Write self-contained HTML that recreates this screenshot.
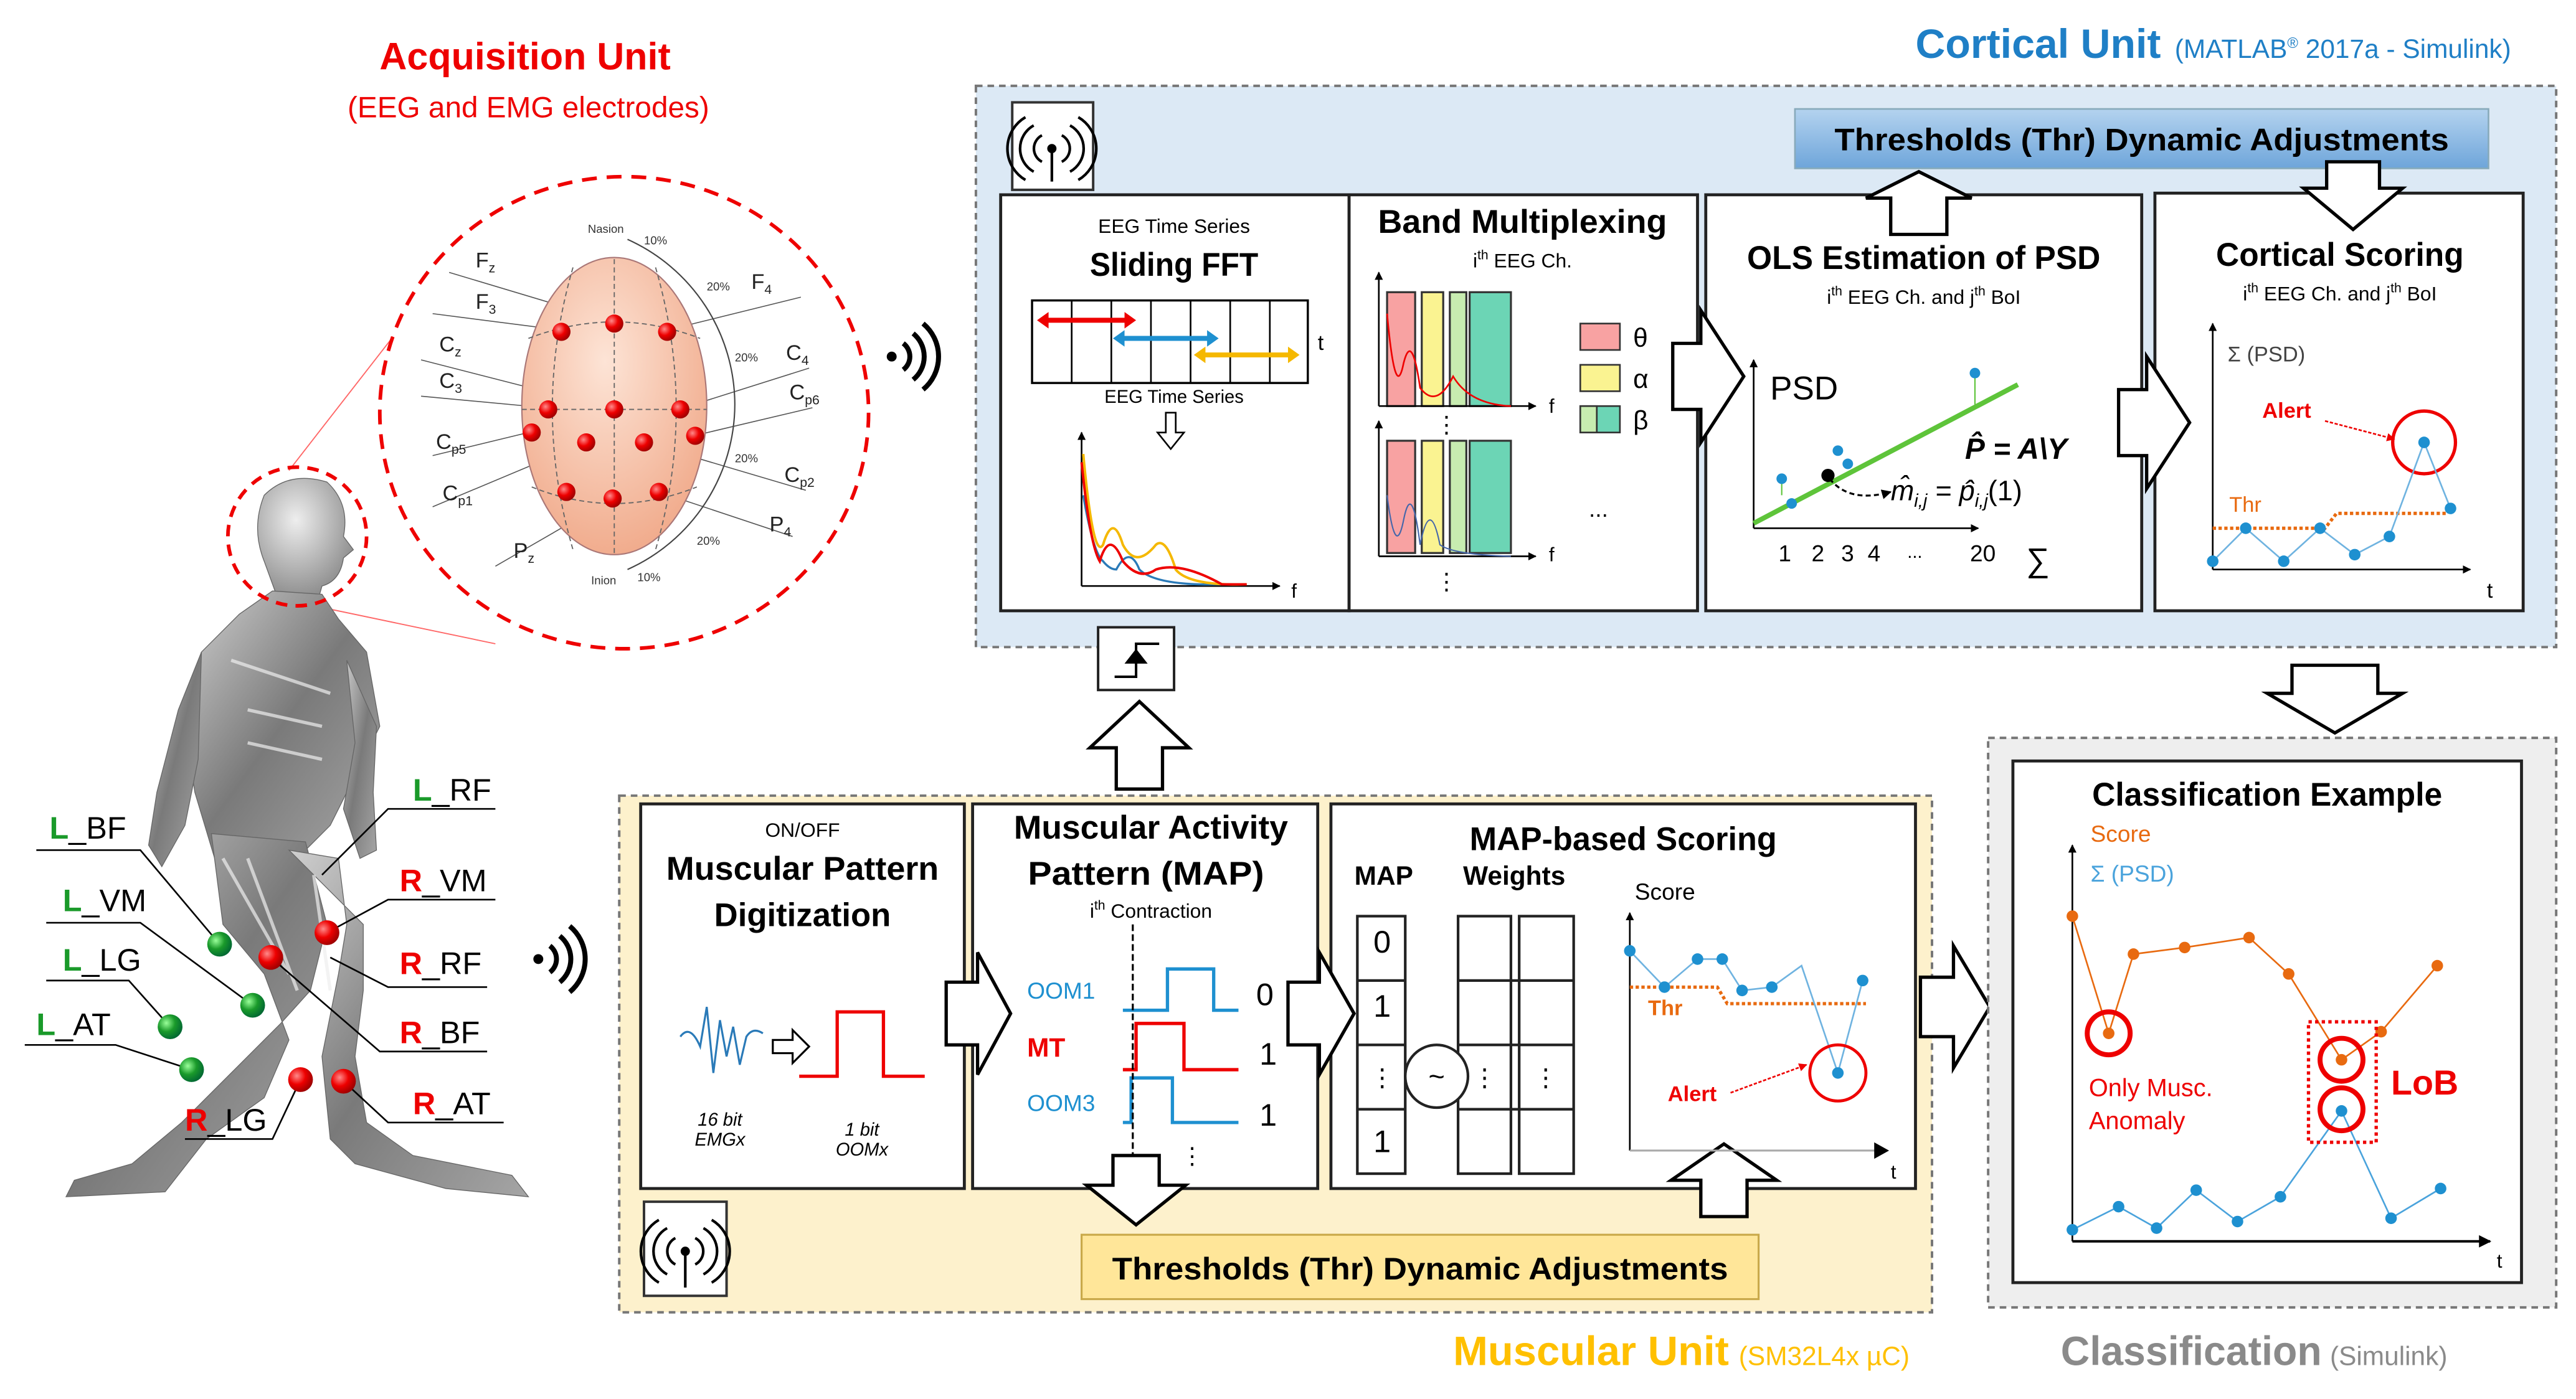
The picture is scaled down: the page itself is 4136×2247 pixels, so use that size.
<!DOCTYPE html>
<html><head><meta charset="utf-8"><style>
html,body{margin:0;padding:0;background:#fff}
svg{display:block}
text{font-family:"Liberation Sans Narrow","Liberation Sans",sans-serif}
.b{font-weight:bold}
.t{font-family:"Liberation Sans",sans-serif}
</style></head><body>
<svg width="4136" height="2247" viewBox="0 0 1560 847.5" xmlns="http://www.w3.org/2000/svg">
<defs>
<radialGradient id="rd" cx="0.35" cy="0.35" r="0.7"><stop offset="0" stop-color="#ff8a8a"/><stop offset="0.5" stop-color="#e00"/><stop offset="1" stop-color="#900"/></radialGradient>
<radialGradient id="gd" cx="0.35" cy="0.35" r="0.7"><stop offset="0" stop-color="#9f9"/><stop offset="0.5" stop-color="#1a9a2a"/><stop offset="1" stop-color="#063"/></radialGradient>
<linearGradient id="bl" x1="0" y1="0" x2="0" y2="1"><stop offset="0" stop-color="#b4d3ef"/><stop offset="1" stop-color="#6ea5da"/></linearGradient>
<radialGradient id="hd" cx="0.45" cy="0.35" r="0.7"><stop offset="0" stop-color="#fde4d6"/><stop offset="1" stop-color="#f0a888"/></radialGradient>
<linearGradient id="bd" x1="0" y1="0" x2="1" y2="1"><stop offset="0" stop-color="#d0d0d0"/><stop offset="0.5" stop-color="#7a7a7a"/><stop offset="1" stop-color="#a5a5a5"/></linearGradient>
<radialGradient id="hg" cx="0.4" cy="0.35" r="0.7"><stop offset="0" stop-color="#eee"/><stop offset="1" stop-color="#888"/></radialGradient>
<marker id="ah" viewBox="0 0 10 10" refX="9" refY="5" markerWidth="5" markerHeight="5" orient="auto"><path d="M0,0L10,5L0,10z" fill="#000"/></marker>
<marker id="ar" viewBox="0 0 10 10" refX="9" refY="5" markerWidth="5" markerHeight="5" orient="auto"><path d="M0,0L10,5L0,10z" fill="#e00"/></marker>
</defs>

<!-- ACQUISITION TITLE -->
<text x="318" y="42" text-anchor="middle" class="t b" font-size="23" fill="#e00">Acquisition Unit</text>
<text x="320" y="71" text-anchor="middle" class="t" font-size="18" fill="#e00">(EEG and EMG electrodes)</text>

<!-- Zoom lines -->
<line x1="175" y1="285" x2="245" y2="195" stroke="#f66" stroke-width="0.7"/>
<line x1="195" y1="368" x2="300" y2="390" stroke="#f66" stroke-width="0.7"/>
<ellipse cx="378" cy="250" rx="148" ry="143" fill="#fff" stroke="#e00" stroke-width="2.2" stroke-dasharray="9,6"/>

<!-- Head diagram -->
<g stroke="#555" stroke-width="0.6" fill="none">
<line x1="272" y1="165" x2="372" y2="195"/><line x1="262" y1="190" x2="340" y2="200"/>
<line x1="255" y1="218" x2="372" y2="248"/><line x1="255" y1="240" x2="330" y2="247"/>
<line x1="262" y1="276" x2="320" y2="262"/><line x1="262" y1="307" x2="355" y2="268"/>
<line x1="300" y1="343" x2="371" y2="302"/>
<line x1="485" y1="180" x2="404" y2="200"/><line x1="490" y1="223" x2="414" y2="247"/>
<line x1="492" y1="247" x2="420" y2="264"/><line x1="488" y1="297" x2="390" y2="268"/>
<line x1="480" y1="325" x2="399" y2="298"/>
</g>
<ellipse cx="372" cy="246" rx="56" ry="90" fill="url(#hd)" stroke="#a77" stroke-width="0.8"/>
<g stroke="#666" stroke-width="0.7" stroke-dasharray="3,2" fill="none">
<line x1="372" y1="157" x2="372" y2="336"/><line x1="316" y1="248" x2="428" y2="248"/>
<path d="M320,205 Q372,185 424,205"/><path d="M322,295 Q372,315 422,295"/>
<path d="M347,162 Q322,248 347,333"/><path d="M397,162 Q422,248 397,333"/>
</g>
<g fill="url(#rd)">
<circle cx="340" cy="201" r="5.5"/><circle cx="372" cy="196" r="5.5"/><circle cx="404" cy="201" r="5.5"/>
<circle cx="332" cy="248" r="5.5"/><circle cx="372" cy="248" r="5.5"/><circle cx="412" cy="248" r="5.5"/>
<circle cx="322" cy="262" r="5.5"/><circle cx="355" cy="268" r="5.5"/><circle cx="390" cy="268" r="5.5"/><circle cx="421" cy="264" r="5.5"/>
<circle cx="343" cy="298" r="5.5"/><circle cx="371" cy="302" r="5.5"/><circle cx="399" cy="298" r="5.5"/>
</g>
<g font-size="13" fill="#222" class="t">
<text x="288" y="162">F<tspan font-size="8" dy="3">z</tspan></text>
<text x="288" y="187">F<tspan font-size="8" dy="3">3</tspan></text>
<text x="266" y="213">C<tspan font-size="8" dy="3">z</tspan></text>
<text x="266" y="235">C<tspan font-size="8" dy="3">3</tspan></text>
<text x="264" y="272">C<tspan font-size="8" dy="3">p5</tspan></text>
<text x="268" y="303">C<tspan font-size="8" dy="3">p1</tspan></text>
<text x="311" y="338">P<tspan font-size="8" dy="3">z</tspan></text>
<text x="455" y="175">F<tspan font-size="8" dy="3">4</tspan></text>
<text x="476" y="218">C<tspan font-size="8" dy="3">4</tspan></text>
<text x="478" y="242">C<tspan font-size="8" dy="3">p6</tspan></text>
<text x="475" y="292">C<tspan font-size="8" dy="3">p2</tspan></text>
<text x="466" y="322">P<tspan font-size="8" dy="3">4</tspan></text>
</g>
<g font-size="7" fill="#333" class="t">
<text x="356" y="141">Nasion</text><text x="390" y="148">10%</text>
<text x="428" y="176">20%</text><text x="445" y="219">20%</text><text x="445" y="280">20%</text>
<text x="422" y="330">20%</text><text x="358" y="354">Inion</text><text x="386" y="352">10%</text>
</g>
<path d="M380,145 A110,110 0 0 1 445,245 A110,110 0 0 1 380,345" fill="none" stroke="#444" stroke-width="0.8"/>

<!-- wireless icons -->
<g fill="none" stroke="#000" stroke-width="3">
<circle cx="540" cy="216" r="3" fill="#000" stroke="none"/>
<path d="M547,208 A10,10 0 0 1 547,224"/><path d="M553,202 A18,18 0 0 1 553,230"/><path d="M559,196 A26,26 0 0 1 559,236"/>
<circle cx="326" cy="581" r="3" fill="#000" stroke="none"/>
<path d="M333,573 A10,10 0 0 1 333,589"/><path d="M339,567 A18,18 0 0 1 339,595"/><path d="M345,561 A26,26 0 0 1 345,601"/>
</g>

<!-- BODY silhouette -->
<g fill="url(#bd)" stroke="#666" stroke-width="0.5">
<path d="M160,300 Q175,285 198,292 Q212,305 208,325 L214,333 L208,338 Q206,352 195,355 L193,362 L168,362 L160,340 Q152,320 160,300z" fill="url(#hg)"/>
<path d="M165,358 L195,360 L205,375 L222,395 L230,440 L215,470 L200,500 L180,520 L130,520 L118,480 L112,440 L122,395 L145,372z"/>
<path d="M122,395 L108,430 L95,480 L90,512 L98,525 L112,500 L120,460z"/>
<path d="M210,400 L215,450 L208,490 L218,520 L228,515 L226,480 L228,440z"/>
<path d="M128,505 L185,510 L198,560 L188,600 L170,620 L140,650 L110,680 L80,705 L45,715 L40,725 L100,722 L125,690 L160,665 L175,630 L160,590 L135,560z"/>
<path d="M175,515 L205,520 L210,560 L205,590 L195,640 L200,690 L215,705 L270,720 L320,725 L310,712 L250,700 L222,680 L215,640 L220,600 L220,560z"/>
</g>
<g stroke="#eee" stroke-width="2" fill="none" opacity="0.7">
<path d="M135,520 L175,590"/><path d="M150,520 L180,600"/><path d="M190,530 L200,600"/><path d="M140,400 L200,420"/><path d="M150,430 L195,440"/><path d="M150,450 L195,460"/>
</g>
<ellipse cx="180" cy="325" rx="42" ry="42" fill="none" stroke="#e00" stroke-width="2.2" stroke-dasharray="7,5"/>

<!-- EMG labels -->
<g stroke="#000" stroke-width="1" fill="none">
<path d="M22,515 L85,515 L133,572"/><path d="M28,559 L85,559 L153,609"/>
<path d="M28,594 L78,594 L103,622"/><path d="M15,633 L70,633 L116,648"/>
<path d="M300,490 L235,490 L195,530"/><path d="M300,545 L235,545 L198,565"/>
<path d="M295,598 L235,598 L200,580"/><path d="M295,637 L230,637 L164,580"/>
<path d="M305,680 L235,680 L208,655"/><path d="M112,690 L165,690 L182,654"/>
</g>
<g fill="url(#gd)"><circle cx="133" cy="572" r="7.5"/><circle cx="153" cy="609" r="7.5"/><circle cx="103" cy="622" r="7.5"/><circle cx="116" cy="648" r="7.5"/></g>
<g fill="url(#rd)"><circle cx="198" cy="565" r="7.5"/><circle cx="164" cy="580" r="7.5"/><circle cx="182" cy="654" r="7.5"/><circle cx="208" cy="655" r="7.5"/></g>
<g font-size="19" class="t">
<text x="30" y="508"><tspan fill="#1a9a2a" class="b">L</tspan>_BF</text>
<text x="38" y="552"><tspan fill="#1a9a2a" class="b">L</tspan>_VM</text>
<text x="38" y="588"><tspan fill="#1a9a2a" class="b">L</tspan>_LG</text>
<text x="22" y="627"><tspan fill="#1a9a2a" class="b">L</tspan>_AT</text>
<text x="250" y="485"><tspan fill="#1a9a2a" class="b">L</tspan>_RF</text>
<text x="242" y="540"><tspan fill="#e00" class="b">R</tspan>_VM</text>
<text x="242" y="590"><tspan fill="#e00" class="b">R</tspan>_RF</text>
<text x="242" y="632"><tspan fill="#e00" class="b">R</tspan>_BF</text>
<text x="250" y="675"><tspan fill="#e00" class="b">R</tspan>_AT</text>
<text x="112" y="685"><tspan fill="#e00" class="b">R</tspan>_LG</text>
</g>

<!-- CORTICAL UNIT -->
<text x="1160" y="35" class="b" font-size="25" fill="#1f7fc6">Cortical Unit</text>
<text x="1317" y="35" font-size="16" fill="#1f7fc6">(MATLAB<tspan font-size="9" dy="-6">®</tspan><tspan dy="6"> 2017a - Simulink)</tspan></text>
<rect x="591" y="52" width="957" height="340" fill="#dce9f5" stroke="#777" stroke-width="1.5" stroke-dasharray="4,3"/>
<rect x="613" y="62" width="49" height="53" fill="#fff" stroke="#333" stroke-width="1.5"/>
<g fill="none" stroke="#000" stroke-width="1.6"><line x1="637" y1="92" x2="637" y2="110"/><circle cx="637" cy="90" r="2" fill="#000"/>
<path d="M631,82 A9,9 0 0 0 631,98"/><path d="M643,82 A9,9 0 0 1 643,98"/><path d="M626,76 A16,16 0 0 0 626,104"/><path d="M648,76 A16,16 0 0 1 648,104"/><path d="M621,71 A22,22 0 0 0 621,109"/><path d="M653,71 A22,22 0 0 1 653,109"/></g>
<rect x="1087" y="66" width="420" height="36" fill="url(#bl)" stroke="#8ab" stroke-width="1"/>
<text x="1297" y="91" text-anchor="middle" class="b" font-size="19" textLength="372" lengthAdjust="spacingAndGlyphs">Thresholds (Thr) Dynamic Adjustments</text>

<g fill="#fff" stroke="#222" stroke-width="1.8">
<rect x="606" y="118" width="211" height="252"/><rect x="817" y="118" width="211" height="252"/>
<rect x="1033" y="118" width="264" height="252"/><rect x="1305" y="117" width="223" height="253"/>
</g>
<!-- hollow arrows cortical -->
<g fill="#fff" stroke="#000" stroke-width="2">
<path d="M1145,142 L1145,120 L1130,120 L1162,104 L1194,120 L1179,120 L1179,142z"/>
<path d="M1409,98 L1441,98 L1441,114 L1455,114 L1425,139 L1395,114 L1409,114z"/>
<path d="M1013,208 L1030,208 L1030,188 L1056,228 L1030,268 L1030,248 L1013,248z"/>
<path d="M1283,236 L1300,236 L1300,216 L1326,256 L1300,296 L1300,276 L1283,276z"/>
<path d="M1388,403 L1440,403 L1440,420 L1455,420 L1414,444 L1373,420 L1388,420z"/>
<path d="M676,478 L704,478 L704,453 L720,453 L690,425 L660,453 L676,453z"/>
</g>
<rect x="665" y="380" width="46" height="38" fill="#fff" stroke="#222" stroke-width="1.5"/>
<path d="M675,410 L688,410 L688,390 L702,390" fill="none" stroke="#000" stroke-width="1.5"/>
<path d="M681,402 L688,393 L695,402z" fill="#000"/>

<!-- Sliding FFT -->
<text x="711" y="141" text-anchor="middle" font-size="12">EEG Time Series</text>
<text x="711" y="167" text-anchor="middle" class="b" font-size="20" textLength="102" lengthAdjust="spacingAndGlyphs">Sliding FFT</text>
<rect x="625" y="182" width="167" height="50" fill="#fff" stroke="#000" stroke-width="1.3"/>
<g stroke="#000" stroke-width="1"><line x1="649" y1="182" x2="649" y2="232"/><line x1="673" y1="182" x2="673" y2="232"/><line x1="697" y1="182" x2="697" y2="232"/><line x1="721" y1="182" x2="721" y2="232"/><line x1="745" y1="182" x2="745" y2="232"/><line x1="769" y1="182" x2="769" y2="232"/></g>
<g stroke-width="3"><line x1="633" y1="194" x2="683" y2="194" stroke="#e00"/><line x1="679" y1="205" x2="733" y2="205" stroke="#1e90d0"/><line x1="728" y1="215" x2="782" y2="215" stroke="#f5b800"/></g>
<g><path d="M628,194 L635,189 L635,199z" fill="#e00"/><path d="M688,194 L681,189 L681,199z" fill="#e00"/>
<path d="M674,205 L681,200 L681,210z" fill="#1e90d0"/><path d="M738,205 L731,200 L731,210z" fill="#1e90d0"/>
<path d="M723,215 L730,210 L730,220z" fill="#f5b800"/><path d="M787,215 L780,210 L780,220z" fill="#f5b800"/></g>
<text x="798" y="212" font-size="13">t</text>
<text x="711" y="244" text-anchor="middle" font-size="11">EEG Time Series</text>
<path d="M706,250 L712,250 L712,262 L717,262 L709,272 L701,262 L706,262z" fill="#fff" stroke="#000"/>
<line x1="655" y1="355" x2="655" y2="262" stroke="#000" marker-end="url(#ah)"/>
<line x1="655" y1="355" x2="775" y2="355" stroke="#000" marker-end="url(#ah)"/>
<text x="782" y="362" font-size="12">f</text>
<path d="M656,300 Q662,335 668,340 Q672,345 676,345 Q684,330 690,345 Q700,355 740,354" fill="none" stroke="#2a7ab8" stroke-width="1.3"/>
<path d="M656,275 Q662,340 668,330 Q674,310 680,330 Q688,345 700,330 Q706,325 712,345 Q720,355 755,354" fill="none" stroke="#f5b800" stroke-width="1.5"/>
<path d="M655,280 Q660,330 666,340 Q672,320 680,340 Q690,352 700,345 Q715,340 740,354 L755,354" fill="none" stroke="#e00" stroke-width="1.5"/>

<!-- Band Multiplexing -->
<text x="922" y="141" text-anchor="middle" class="b" font-size="20" textLength="175" lengthAdjust="spacingAndGlyphs">Band Multiplexing</text>
<text x="922" y="162" text-anchor="middle" font-size="12">i<tspan font-size="8" dy="-5">th</tspan><tspan dy="5"> EEG Ch.</tspan></text>
<g stroke="#333" stroke-width="1.2">
<rect x="840" y="177" width="17" height="69" fill="#f8a2a2"/><rect x="861" y="177" width="13" height="69" fill="#faf391"/>
<rect x="878" y="177" width="10" height="69" fill="#c7ecb0"/><rect x="890" y="177" width="25" height="69" fill="#6cd5b5"/>
<rect x="840" y="267" width="17" height="68" fill="#f8a2a2"/><rect x="861" y="267" width="13" height="68" fill="#faf391"/>
<rect x="878" y="267" width="10" height="68" fill="#c7ecb0"/><rect x="890" y="267" width="25" height="68" fill="#6cd5b5"/>
</g>
<line x1="835" y1="246" x2="835" y2="165" stroke="#000" marker-end="url(#ah)"/><line x1="835" y1="246" x2="930" y2="246" stroke="#000" marker-end="url(#ah)"/>
<line x1="835" y1="337" x2="835" y2="255" stroke="#000" marker-end="url(#ah)"/><line x1="835" y1="337" x2="930" y2="337" stroke="#000" marker-end="url(#ah)"/>
<text x="938" y="250" font-size="12">f</text><text x="938" y="340" font-size="12">f</text>
<path d="M840,190 Q845,245 850,220 Q855,200 860,235 Q870,248 880,228 Q890,245 915,246" fill="none" stroke="#e00" stroke-width="1"/>
<path d="M840,300 Q845,340 850,315 Q855,290 860,330 Q866,300 872,330 Q880,336 915,337" fill="none" stroke="#46a" stroke-width="0.8"/>
<text x="876" y="262" text-anchor="middle" font-size="14">⋮</text><text x="876" y="357" text-anchor="middle" font-size="14">⋮</text>
<rect x="957" y="196" width="24" height="16" fill="#f8a2a2" stroke="#333"/><text x="989" y="210" font-size="16">θ</text>
<rect x="957" y="221" width="24" height="16" fill="#faf391" stroke="#333"/><text x="989" y="235" font-size="16">α</text>
<rect x="957" y="246" width="24" height="16" fill="#6cd5b5" stroke="#333"/><rect x="957" y="246" width="10" height="16" fill="#c7ecb0" stroke="#333"/><text x="989" y="260" font-size="16">β</text>
<text x="968" y="313" text-anchor="middle" font-size="14">...</text>

<!-- OLS -->
<text x="1165" y="163" text-anchor="middle" class="b" font-size="20" textLength="214" lengthAdjust="spacingAndGlyphs">OLS Estimation of PSD</text>
<text x="1165" y="184" text-anchor="middle" font-size="12">i<tspan font-size="8" dy="-5">th</tspan><tspan dy="5"> EEG Ch. and j</tspan><tspan font-size="8" dy="-5">th</tspan><tspan dy="5"> BoI</tspan></text>
<line x1="1062" y1="320" x2="1062" y2="218" stroke="#000" marker-end="url(#ah)"/>
<line x1="1062" y1="320" x2="1198" y2="320" stroke="#000" marker-end="url(#ah)"/>
<text x="1072" y="242" font-size="20">PSD</text>
<line x1="1062" y1="317" x2="1222" y2="233" stroke="#5ec43a" stroke-width="3"/>
<g stroke="#5ec43a" stroke-width="0.8"><line x1="1079" y1="300" x2="1079" y2="290"/><line x1="1196" y1="245" x2="1196" y2="228"/></g>
<g fill="#1e90d0"><circle cx="1079" cy="290" r="3.2"/><circle cx="1085" cy="305" r="3.2"/><circle cx="1113" cy="273" r="3.2"/><circle cx="1119" cy="281" r="3.2"/><circle cx="1196" cy="226" r="3.2"/></g>
<circle cx="1107" cy="288" r="4" fill="#000"/>
<path d="M1108,290 Q1120,305 1145,298" fill="none" stroke="#000" stroke-width="1.2" stroke-dasharray="3,2" marker-end="url(#ah)"/>
<text x="1190" y="278" font-family="Liberation Serif,serif" font-style="italic" font-size="18" class="b">P̂ = A\Y</text>
<text x="1145" y="303" font-family="Liberation Serif,serif" font-style="italic" font-size="17">m̂<tspan font-size="11" dy="4">i,j</tspan><tspan dy="-4"> = p̂</tspan><tspan font-size="11" dy="4">i,j</tspan><tspan dy="-4" font-style="normal">(1)</tspan></text>
<text x="1077" y="340" font-size="14">1</text><text x="1097" y="340" font-size="14">2</text><text x="1115" y="340" font-size="14">3</text><text x="1131" y="340" font-size="14">4</text><text x="1155" y="338" font-size="11">...</text><text x="1193" y="340" font-size="14">20</text><text x="1227" y="346" font-size="20">∑</text>

<!-- Cortical Scoring -->
<text x="1417" y="161" text-anchor="middle" class="b" font-size="20" textLength="150" lengthAdjust="spacingAndGlyphs">Cortical Scoring</text>
<text x="1417" y="182" text-anchor="middle" font-size="12">i<tspan font-size="8" dy="-5">th</tspan><tspan dy="5"> EEG Ch. and j</tspan><tspan font-size="8" dy="-5">th</tspan><tspan dy="5"> BoI</tspan></text>
<line x1="1340" y1="345" x2="1340" y2="196" stroke="#000" marker-end="url(#ah)"/>
<line x1="1340" y1="345" x2="1496" y2="345" stroke="#000" marker-end="url(#ah)"/>
<text x="1349" y="219" font-size="13" fill="#444">Σ (PSD)</text>
<text x="1506" y="362" font-size="13">t</text>
<text x="1370" y="253" font-size="13" fill="#e00" class="b">Alert</text>
<line x1="1408" y1="255" x2="1450" y2="266" stroke="#e00" stroke-width="1" stroke-dasharray="2,1" marker-end="url(#ar)"/>
<circle cx="1468" cy="268" r="19" fill="none" stroke="#e00" stroke-width="2"/>
<text x="1350" y="310" font-size="13" fill="#e86a10">Thr</text>
<path d="M1340,320 L1408,320 L1415,311 L1482,311" fill="none" stroke="#e86a10" stroke-width="2" stroke-dasharray="2,1.5"/>
<polyline points="1340,340 1360,320 1383,340 1405,320 1426,336 1447,325 1468,268 1484,308" fill="none" stroke="#6fb3e0" stroke-width="1"/>
<g fill="#1e90d0"><circle cx="1340" cy="340" r="3.5"/><circle cx="1360" cy="320" r="3.5"/><circle cx="1383" cy="340" r="3.5"/><circle cx="1405" cy="320" r="3.5"/><circle cx="1426" cy="336" r="3.5"/><circle cx="1447" cy="325" r="3.5"/><circle cx="1468" cy="268" r="3.5"/><circle cx="1484" cy="308" r="3.5"/></g>

<!-- MUSCULAR UNIT -->
<rect x="375" y="482" width="795" height="313" fill="#fdf1cc" stroke="#777" stroke-width="1.5" stroke-dasharray="4,3"/>
<g fill="#fff" stroke="#222" stroke-width="1.8">
<rect x="388" y="487" width="196" height="233"/><rect x="589" y="487" width="209" height="233"/><rect x="806" y="487" width="354" height="233"/>
</g>
<rect x="390" y="728" width="50" height="57" fill="#fff" stroke="#333" stroke-width="1.5"/>
<g fill="none" stroke="#000" stroke-width="1.6"><line x1="415" y1="760" x2="415" y2="780"/><circle cx="415" cy="758" r="2" fill="#000"/>
<path d="M409,750 A9,9 0 0 0 409,766"/><path d="M421,750 A9,9 0 0 1 421,766"/><path d="M404,744 A16,16 0 0 0 404,772"/><path d="M426,744 A16,16 0 0 1 426,772"/><path d="M399,739 A22,22 0 0 0 399,777"/><path d="M431,739 A22,22 0 0 1 431,777"/></g>
<rect x="655" y="748" width="410" height="39" fill="#ffe699" stroke="#c9a94a" stroke-width="1.2"/>
<text x="860" y="775" text-anchor="middle" class="b" font-size="19" textLength="373" lengthAdjust="spacingAndGlyphs">Thresholds (Thr) Dynamic Adjustments</text>

<g fill="#fff" stroke="#000" stroke-width="2">
<path d="M573,595 L592,595 L592,577 L612,614 L592,651 L592,633 L573,633z"/>
<path d="M780,595 L799,595 L799,577 L820,614 L799,651 L799,633 L780,633z"/>
<path d="M1163,592 L1183,592 L1183,573 L1205,610 L1183,647 L1183,628 L1163,628z"/>
<path d="M674,700 L702,700 L702,718 L718,718 L688,742 L658,718 L674,718z"/>
<path d="M1030,737 L1058,737 L1058,715 L1076,715 L1044,693 L1012,715 L1030,715z"/>
</g>

<!-- Panel 1 -->
<text x="486" y="507" text-anchor="middle" font-size="12">ON/OFF</text>
<text x="486" y="533" text-anchor="middle" class="b" font-size="20" textLength="165" lengthAdjust="spacingAndGlyphs">Muscular Pattern</text>
<text x="486" y="561" text-anchor="middle" class="b" font-size="20" textLength="107" lengthAdjust="spacingAndGlyphs">Digitization</text>
<path d="M412,628 Q418,620 424,634 L428,610 L432,650 L436,618 L440,640 L444,622 L448,645 L452,628 Q456,622 462,626" fill="none" stroke="#2a7ab8" stroke-width="1.2"/>
<path d="M468,630 L480,630 L480,624 L490,634 L480,644 L480,638 L468,638z" fill="#fff" stroke="#000" stroke-width="1.2"/>
<polyline points="484,652 507,652 507,613 535,613 535,652 560,652" fill="none" stroke="#e00" stroke-width="2"/>
<text x="436" y="682" text-anchor="middle" font-size="11" font-style="italic">16 bit</text><text x="436" y="694" text-anchor="middle" font-size="11" font-style="italic">EMGx</text>
<text x="522" y="688" text-anchor="middle" font-size="11" font-style="italic">1 bit</text><text x="522" y="700" text-anchor="middle" font-size="11" font-style="italic">OOMx</text>

<!-- Panel 2 -->
<text x="697" y="508" text-anchor="middle" class="b" font-size="20" textLength="166" lengthAdjust="spacingAndGlyphs">Muscular Activity</text>
<text x="694" y="536" text-anchor="middle" class="b" font-size="20" textLength="143" lengthAdjust="spacingAndGlyphs">Pattern (MAP)</text>
<text x="697" y="556" text-anchor="middle" font-size="12">i<tspan font-size="8" dy="-5">th</tspan><tspan dy="5"> Contraction</tspan></text>
<text x="622" y="605" font-size="14" fill="#1e90d0">OOM1</text>
<text x="622" y="640" font-size="16" fill="#e00" class="b">MT</text>
<text x="622" y="673" font-size="14" fill="#1e90d0">OOM3</text>
<polyline points="680,612 707,612 707,587 735,587 735,612 750,612" fill="none" stroke="#1e90d0" stroke-width="2"/>
<polyline points="680,648 688,648 688,620 717,620 717,648 750,648" fill="none" stroke="#e00" stroke-width="2"/>
<polyline points="680,680 685,680 685,653 710,653 710,680 750,680" fill="none" stroke="#1e90d0" stroke-width="2"/>
<line x1="686" y1="560" x2="686" y2="700" stroke="#000" stroke-width="1.2" stroke-dasharray="4,2"/>
<text x="766" y="609" text-anchor="middle" font-size="19">0</text>
<text x="768" y="645" text-anchor="middle" font-size="19">1</text>
<text x="768" y="682" text-anchor="middle" font-size="19">1</text>
<text x="722" y="705" text-anchor="middle" font-size="14">⋮</text>

<!-- Panel 3 -->
<text x="983" y="515" text-anchor="middle" class="b" font-size="20" textLength="186" lengthAdjust="spacingAndGlyphs">MAP-based Scoring</text>
<text x="838" y="536" text-anchor="middle" class="b" font-size="16">MAP</text>
<text x="917" y="536" text-anchor="middle" class="b" font-size="16">Weights</text>
<g fill="#fff" stroke="#222" stroke-width="1.6">
<rect x="822" y="555" width="29" height="156"/><rect x="883" y="555" width="32" height="156"/><rect x="920" y="555" width="33" height="156"/>
<line x1="822" y1="594" x2="851" y2="594"/><line x1="822" y1="633" x2="851" y2="633"/><line x1="822" y1="672" x2="851" y2="672"/>
<line x1="883" y1="594" x2="953" y2="594"/><line x1="883" y1="633" x2="953" y2="633"/><line x1="883" y1="672" x2="953" y2="672"/>
<circle cx="870" cy="652" r="19"/>
</g>
<text x="837" y="577" text-anchor="middle" font-size="19">0</text>
<text x="837" y="616" text-anchor="middle" font-size="19">1</text>
<text x="837" y="658" text-anchor="middle" font-size="15">⋮</text>
<text x="837" y="698" text-anchor="middle" font-size="19">1</text>
<text x="870" y="658" text-anchor="middle" font-size="17">~</text>
<text x="899" y="658" text-anchor="middle" font-size="15">⋮</text><text x="936" y="658" text-anchor="middle" font-size="15">⋮</text>
<text x="990" y="545" font-size="14">Score</text>
<line x1="987" y1="697" x2="987" y2="553" stroke="#000" marker-end="url(#ah)"/>
<line x1="987" y1="697" x2="1142" y2="697" stroke="#aaa" stroke-width="1.2"/>
<path d="M1135,692 L1144,697 L1135,702z" fill="#000"/>
<text x="1145" y="714" font-size="12">t</text>
<path d="M987,598 L1040,598 L1046,608 L1130,608" fill="none" stroke="#e86a10" stroke-width="2" stroke-dasharray="2,1.5"/>
<text x="998" y="615" font-size="13" fill="#e86a10" class="b">Thr</text>
<polyline points="987,576 1008,598 1028,581 1043,581 1055,600 1073,598 1091,585 1113,650 1128,594" fill="none" stroke="#6fb3e0" stroke-width="1"/>
<g fill="#1e90d0"><circle cx="987" cy="576" r="3.5"/><circle cx="1008" cy="598" r="3.5"/><circle cx="1028" cy="581" r="3.5"/><circle cx="1043" cy="581" r="3.5"/><circle cx="1055" cy="600" r="3.5"/><circle cx="1073" cy="598" r="3.5"/><circle cx="1113" cy="650" r="3.5"/><circle cx="1128" cy="594" r="3.5"/></g>
<circle cx="1113" cy="650" r="17" fill="none" stroke="#e00" stroke-width="1.8"/>
<text x="1010" y="667" font-size="13" fill="#e00" class="b">Alert</text>
<line x1="1048" y1="662" x2="1094" y2="645" stroke="#e00" stroke-width="1" stroke-dasharray="2,1" marker-end="url(#ar)"/>

<text x="880" y="827" class="b" font-size="25" fill="#ffc000" textLength="167" lengthAdjust="spacingAndGlyphs">Muscular Unit</text>
<text x="1053" y="827" font-size="16" fill="#ffc000">(SM32L4x µC)</text>

<!-- CLASSIFICATION -->
<rect x="1204" y="447" width="344" height="345" fill="#eeeeee" stroke="#777" stroke-width="1.5" stroke-dasharray="4,3"/>
<rect x="1219" y="461" width="308" height="316" fill="#fff" stroke="#222" stroke-width="1.8"/>
<text x="1373" y="488" text-anchor="middle" class="b" font-size="20" textLength="212" lengthAdjust="spacingAndGlyphs">Classification Example</text>
<text x="1266" y="510" font-size="14" fill="#e86a10">Score</text>
<text x="1266" y="534" font-size="14" fill="#4aa3dc">Σ (PSD)</text>
<line x1="1255" y1="752" x2="1255" y2="512" stroke="#000" marker-end="url(#ah)"/>
<line x1="1255" y1="752" x2="1508" y2="752" stroke="#000" stroke-width="1.5" marker-end="url(#ah)"/>
<text x="1512" y="768" font-size="12">t</text>
<polyline points="1255,555 1277,626 1292,578 1323,574 1362,568 1386,590 1418,642 1442,625 1476,585" fill="none" stroke="#e86a10" stroke-width="1"/>
<g fill="#e86a10"><circle cx="1255" cy="555" r="3.5"/><circle cx="1277" cy="626" r="3.5"/><circle cx="1292" cy="578" r="3.5"/><circle cx="1323" cy="574" r="3.5"/><circle cx="1362" cy="568" r="3.5"/><circle cx="1386" cy="590" r="3.5"/><circle cx="1418" cy="642" r="3.5"/><circle cx="1442" cy="625" r="3.5"/><circle cx="1476" cy="585" r="3.5"/></g>
<polyline points="1255,745 1283,731 1306,744 1330,721 1355,740 1381,725 1418,673 1448,738 1478,720" fill="none" stroke="#4aa3dc" stroke-width="1"/>
<g fill="#1e90d0"><circle cx="1255" cy="745" r="3.5"/><circle cx="1283" cy="731" r="3.5"/><circle cx="1306" cy="744" r="3.5"/><circle cx="1330" cy="721" r="3.5"/><circle cx="1355" cy="740" r="3.5"/><circle cx="1381" cy="725" r="3.5"/><circle cx="1418" cy="673" r="3.5"/><circle cx="1448" cy="738" r="3.5"/><circle cx="1478" cy="720" r="3.5"/></g>
<g fill="none" stroke="#e00" stroke-width="3"><circle cx="1277" cy="626" r="13"/><circle cx="1418" cy="642" r="13"/><circle cx="1418" cy="672" r="13"/></g>
<rect x="1398" y="619" width="41" height="73" fill="none" stroke="#e00" stroke-width="2" stroke-dasharray="2,2"/>
<text x="1448" y="663" class="b" font-size="21" fill="#e00">LoB</text>
<text x="1265" y="664" font-size="15" fill="#e00">Only Musc.</text>
<text x="1265" y="684" font-size="15" fill="#e00">Anomaly</text>
<text x="1248" y="827" class="b" font-size="25" fill="#8a8a8a" textLength="158" lengthAdjust="spacingAndGlyphs">Classification</text>
<text x="1411" y="827" font-size="16" fill="#8a8a8a">(Simulink)</text>
</svg>
</body></html>
